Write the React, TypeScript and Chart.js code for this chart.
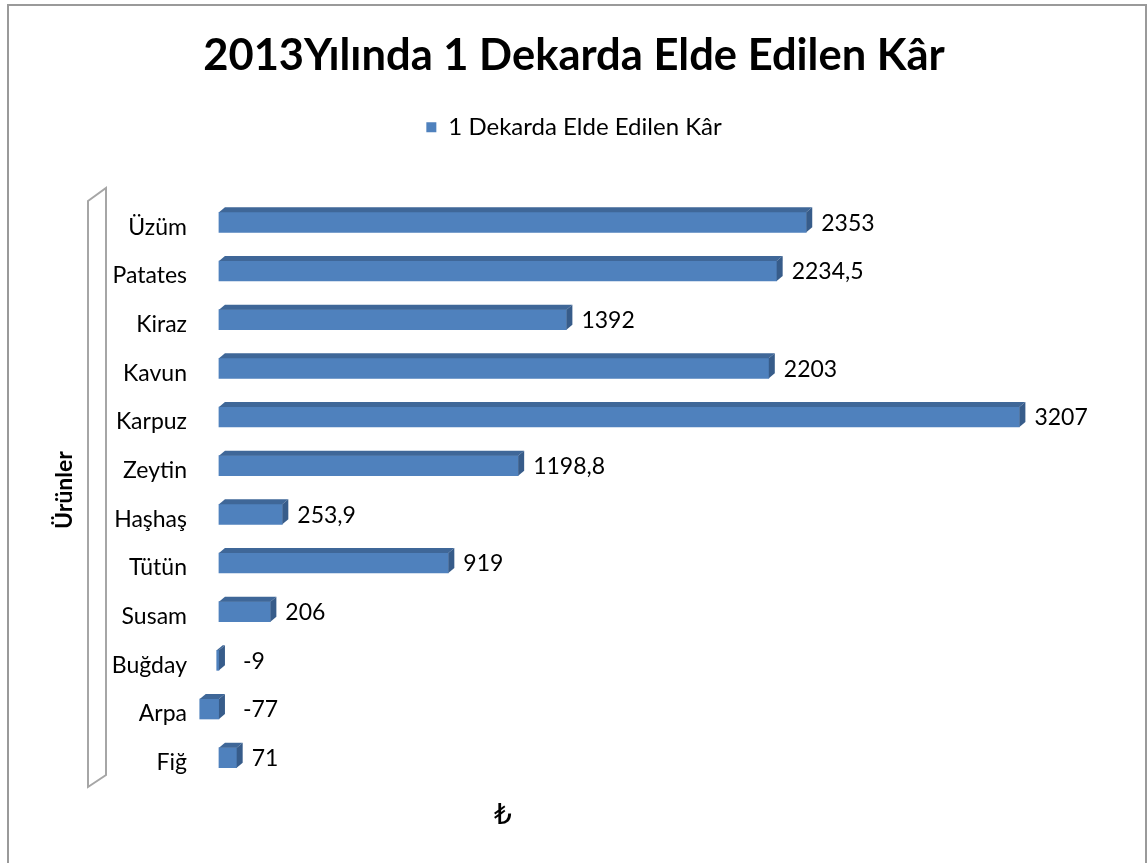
import React, { useEffect, useRef } from 'react';
import { Chart, registerables } from 'chart.js';

Chart.register(...registerables);

// ---- data ----
const categories = ['Üzüm', 'Patates', 'Kiraz', 'Kavun', 'Karpuz', 'Zeytin', 'Haşhaş', 'Tütün', 'Susam', 'Buğday', 'Arpa', 'Fiğ'];
const profits = [2353, 2234.5, 1392, 2203, 3207, 1198.8, 253.9, 919, 206, -9, -77, 71];
const seriesName = '1 Dekarda Elde Edilen Kâr';
const chartTitle = '2013Yılında 1 Dekarda Elde Edilen Kâr';
const yAxisTitle = 'Ürünler';
const xAxisTitle = '₺';
const xMin = -100;
const xMax = 3530;

// ---- style ----
const FONT = 'Lato, "DejaVu Sans", sans-serif';
const FRONT = '#4F81BD';
const TOP = '#3F6798';
const SIDE = '#375C8A';
const DX = 6;
const DY = 5;

const formatValue = (v: number) => String(v).replace('.', ',');

const bar3d = {
  id: 'bar3d',
  beforeDraw(chart: any) {
    const { ctx, chartArea } = chart;
    ctx.save();
    // outer frame
    ctx.strokeStyle = '#9A9A9A';
    ctx.lineWidth = 2;
    ctx.strokeRect(8, 5, 1138, 900);
    // 3D wall beside the category axis
    const yS = chart.scales.y;
    const lx = yS.left + 40;
    const rx = lx + 18;
    ctx.strokeStyle = '#A6A6A6';
    ctx.lineWidth = 2;
    ctx.beginPath();
    ctx.moveTo(lx, chartArea.top + 3);
    ctx.lineTo(rx, chartArea.top - 10);
    ctx.lineTo(rx, chartArea.bottom - 7);
    ctx.lineTo(lx, chartArea.bottom + 5);
    ctx.closePath();
    ctx.stroke();
    ctx.restore();
  },
  afterDatasetsDraw(chart: any) {
    const { ctx } = chart;
    const meta = chart.getDatasetMeta(0);
    const zero = chart.scales.x.getPixelForValue(0);
    ctx.save();
    meta.data.forEach((bar: any, i: number) => {
      const { x, y, base, height } = bar.getProps(['x', 'y', 'base', 'height'], true);
      const left = Math.min(x, base);
      const right = Math.max(x, base);
      const top = y - height / 2;
      const bottom = y + height / 2;
      ctx.fillStyle = TOP;
      ctx.beginPath();
      ctx.moveTo(left, top);
      ctx.lineTo(left + DX, top - DY);
      ctx.lineTo(right + DX, top - DY);
      ctx.lineTo(right, top);
      ctx.closePath();
      ctx.fill();
      ctx.fillStyle = SIDE;
      ctx.beginPath();
      ctx.moveTo(right, top);
      ctx.lineTo(right + DX, top - DY);
      ctx.lineTo(right + DX, bottom - DY);
      ctx.lineTo(right, bottom);
      ctx.closePath();
      ctx.fill();
      const v = profits[i];
      const lxp = v >= 0 ? right + DX + 9 : zero + 24;
      ctx.fillStyle = '#000';
      ctx.font = `23px ${FONT}`;
      ctx.textAlign = 'left';
      ctx.textBaseline = 'middle';
      ctx.fillText(formatValue(v), lxp, y + 1);
    });
    ctx.restore();
  },
  afterDraw(chart: any) {
    const { ctx, chartArea } = chart;
    ctx.save();
    ctx.fillStyle = '#000';
    ctx.font = `28px "DejaVu Sans", ${FONT}`;
    ctx.textAlign = 'center';
    ctx.textBaseline = 'middle';
    ctx.fillText(xAxisTitle, chartArea.left + 0.341 * (chartArea.right - chartArea.left), chartArea.bottom + 35);
    ctx.restore();
  },
};

export default function App() {
  const canvasRef = useRef<HTMLCanvasElement | null>(null);

  useEffect(() => {
    document.body.style.margin = '0';
    const canvas = canvasRef.current;
    if (!canvas) return;
    Chart.defaults.font.family = FONT;
    const chart = new Chart(canvas, {
      type: 'bar',
      data: {
        labels: categories,
        datasets: [
          {
            label: seriesName,
            data: profits,
            backgroundColor: FRONT,
            borderWidth: 0,
            barThickness: 20,
          },
        ],
      },
      options: {
        indexAxis: 'y',
        responsive: false,
        animation: false,
        events: [],
        layout: { padding: { left: 48, right: 48, top: 0, bottom: 81 } },
        plugins: {
          title: {
            display: true,
            text: chartTitle,
            color: '#000',
            font: { size: 43.5, weight: 'bold', family: FONT },
            padding: { top: 30, bottom: 9 },
          },
          legend: {
            display: true,
            position: 'top',
            labels: {
              boxWidth: 10,
              boxHeight: 10,
              color: '#000',
              font: { size: 24, family: FONT },
              padding: 24,
            },
          },
          tooltip: { enabled: false },
        },
        scales: {
          x: {
            type: 'linear',
            position: 'top',
            min: xMin,
            max: xMax,
            ticks: { display: false },
            grid: { display: false, drawTicks: false },
            border: { display: false },
            afterFit: (scale: any) => {
              scale.height = 48.8;
            },
          },
          y: {
            type: 'category',
            ticks: { color: '#000', font: { size: 23, family: FONT }, padding: 7, labelOffset: 5 },
            grid: { display: false, drawTicks: false },
            border: { display: false },
            title: {
              display: true,
              text: yAxisTitle,
              color: '#000',
              font: { size: 23, weight: 'bold', family: FONT },
              padding: { top: 3, bottom: 0 },
            },
            afterFit: (scale: any) => {
              scale.width = 146;
            },
          },
        },
      },
      plugins: [bar3d],
    });
    return () => chart.destroy();
  }, []);

  return (
    <div style={{ width: 1148, height: 863 }}>
      <canvas ref={canvasRef} width={1148} height={863} />
    </div>
  );
}
